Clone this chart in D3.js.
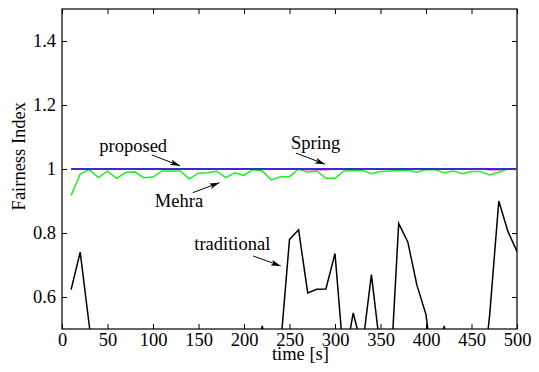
<!DOCTYPE html>
<html>
<head>
<meta charset="utf-8">
<script src="https://cdn.jsdelivr.net/npm/d3@7"></script>
<style>
  body { margin: 0; background: #fff; }
  svg text { font-family: 'Liberation Serif', 'Times New Roman', Times, serif; fill: #000; }
</style>
</head>
<body>
<div id="chart"></div>
<script>
// time samples [s]
const times = [10, 20, 30, 40, 50, 60, 70, 80, 90, 100,
  110, 120, 130, 140, 150, 160, 170, 180, 190, 200,
  210, 220, 230, 240, 250, 260, 270, 280, 290, 300,
  310, 320, 330, 340, 350, 360, 370, 380, 390, 400,
  410, 420, 430, 440, 450, 460, 470, 480, 490, 500];

const proposed = [1, 1, 1, 1, 1, 1, 1, 1, 1, 1,
  1, 1, 1, 1, 1, 1, 1, 1, 1, 1,
  1, 1, 1, 1, 1, 1, 1, 1, 1, 1,
  1, 1, 1, 1, 1, 1, 1, 1, 1, 1,
  1, 1, 1, 1, 1, 1, 1, 1, 1, 1];

const spring = [1, 1, 1, 1, 1, 1, 1, 1, 1, 1,
  1, 1, 1, 1, 1, 1, 1, 1, 1, 1,
  1, 1, 1, 1, 1, 1, 0.998, 0.998, 0.998, 1,
  1, 1, 1, 1, 1, 1, 1, 0.999, 0.999, 1,
  1, 1, 1, 1, 1, 1, 0.998, 0.998, 1, 1];

const mehra = [0.917, 0.984, 0.998, 0.973, 0.993, 0.971, 0.989, 0.991, 0.973, 0.975,
  0.994, 0.994, 0.994, 0.969, 0.987, 0.988, 0.993, 0.973, 0.988, 0.980,
  0.998, 0.994, 0.966, 0.976, 0.976, 1.0, 0.990, 0.994, 0.971, 0.971,
  0.994, 0.995, 0.996, 0.985, 0.992, 0.994, 0.995, 0.996, 0.990, 0.998,
  0.998, 0.988, 0.994, 0.985, 0.992, 0.992, 0.981, 0.990, 1.0, 0.998];

const traditional = [0.623, 0.74, 0.51, 0.30, 0.35, 0.28, 0.40, 0.33, 0.25, 0.38,
  0.30, 0.42, 0.36, 0.27, 0.33, 0.39, 0.31, 0.44, 0.37, 0.29,
  0.34, 0.51, 0.38, 0.44, 0.78, 0.81, 0.613, 0.624, 0.625, 0.736,
  0.39, 0.55, 0.44, 0.67, 0.43, 0.31, 0.83, 0.772, 0.637, 0.545,
  0.32, 0.51, 0.35, 0.30, 0.41, 0.28, 0.545, 0.90, 0.805, 0.742];

const xTicks = [0, 50, 100, 150, 200, 250, 300, 350, 400, 450, 500];
const yTicks = [0.6, 0.8, 1, 1.2, 1.4];

const serif = "'Liberation Serif', 'Times New Roman', Times, serif";
const fs = 18.5;

const margin = { top: 9, right: 22, bottom: 43, left: 62 };
const width = 539 - margin.left - margin.right;
const height = 372 - margin.top - margin.bottom;

const x = d3.scaleLinear().domain([0, 500]).range([0, width]);
const y = d3.scaleLinear().domain([0.5, 1.5]).range([height, 0]);

const svg = d3.select("#chart")
  .append("svg")
  .attr("width", 539)
  .attr("height", 372)
  .attr("font-family", serif);

svg.append("defs").append("marker")
  .attr("id", "head")
  .attr("viewBox", "0 0 10 6")
  .attr("refX", 10)
  .attr("refY", 3)
  .attr("markerWidth", 10)
  .attr("markerHeight", 6)
  .attr("markerUnits", "userSpaceOnUse")
  .attr("orient", "auto")
  .append("path")
  .attr("d", "M0,0 L10,3 L0,6 L2.5,3 Z")
  .attr("fill", "#000");

svg.select("defs").append("clipPath")
  .attr("id", "clip")
  .append("rect")
  .attr("width", width)
  .attr("height", height);

const g = svg.append("g")
  .attr("transform", "translate(" + margin.left + "," + margin.top + ")");

// axes, ticks pointing inward on all four sides
g.append("g")
  .attr("transform", "translate(0," + height + ")")
  .call(d3.axisBottom(x).tickValues(xTicks).tickSize(-5).tickPadding(4).tickFormat(d3.format("d")))
  .call(a => a.select(".domain").remove())
  .attr("font-family", serif)
  .attr("font-size", fs);

g.append("g")
  .call(d3.axisTop(x).tickValues(xTicks).tickSize(-5).tickFormat(""))
  .call(a => a.select(".domain").remove());

g.append("g")
  .call(d3.axisLeft(y).tickValues(yTicks).tickSize(-5).tickPadding(6).tickFormat(d => d3.format("")(+d.toFixed(1))))
  .call(a => a.select(".domain").remove())
  .attr("font-family", serif)
  .attr("font-size", fs);

g.append("g")
  .attr("transform", "translate(" + width + ",0)")
  .call(d3.axisRight(y).tickValues(yTicks).tickSize(-5).tickFormat(""))
  .call(a => a.select(".domain").remove());

g.selectAll(".tick line").attr("stroke", "#000");

g.append("rect")
  .attr("width", width)
  .attr("height", height)
  .attr("fill", "none")
  .attr("stroke", "#000")
  .attr("stroke-width", 1.2);

// series
const line = d3.line()
  .x((d, i) => x(times[i]))
  .y(d => y(d));

const plot = g.append("g").attr("clip-path", "url(#clip)");

plot.append("path").datum(traditional)
  .attr("d", line).attr("fill", "none")
  .attr("stroke", "#000").attr("stroke-width", 1.5);

plot.append("path").datum(mehra)
  .attr("d", line).attr("fill", "none")
  .attr("stroke", "#22ee22").attr("stroke-width", 1.5);

plot.append("path").datum(spring)
  .attr("d", line).attr("fill", "none")
  .attr("stroke", "#ff33dd").attr("stroke-width", 1.5);

plot.append("path").datum(proposed)
  .attr("d", line).attr("fill", "none")
  .attr("stroke", "#3a2bd0").attr("stroke-width", 1.8);

// annotations
function label(txt, tx, ty) {
  g.append("text")
    .attr("x", x(tx))
    .attr("y", y(ty))
    .style("font-size", fs + "px")
    .text(txt);
}
function arrow(x1, y1, x2, y2) {
  g.append("line")
    .attr("x1", x(x1)).attr("y1", y(y1))
    .attr("x2", x(x2)).attr("y2", y(y2))
    .attr("stroke", "#000").attr("stroke-width", 1)
    .attr("marker-end", "url(#head)");
}

label("proposed", 41, 1.053);
arrow(98.6, 1.044, 129.7, 1.010);

label("Spring", 251.6, 1.063);
arrow(257, 1.05, 289, 1.015);

label("Mehra", 102, 0.881);
arrow(143.6, 0.926, 172.9, 0.957);

label("traditional", 145.4, 0.747);
arrow(210.2, 0.728, 240.3, 0.697);

// axis titles
g.append("text")
  .attr("x", x(262))
  .attr("y", height + 31)
  .attr("text-anchor", "middle")
  .style("font-size", fs + "px")
  .text("time [s]");

g.append("text")
  .attr("transform", "rotate(-90)")
  .attr("x", -(y(1.04)))
  .attr("y", -37)
  .attr("text-anchor", "middle")
  .style("font-size", fs + "px")
  .text("Fairness Index");
</script>
</body>
</html>
